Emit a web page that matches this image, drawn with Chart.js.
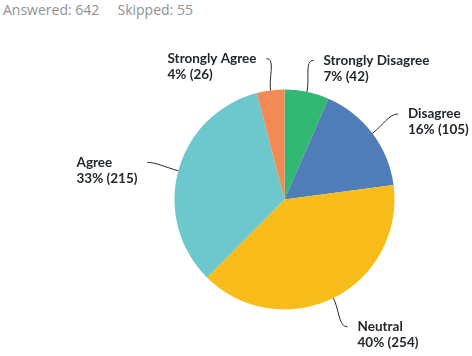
<!DOCTYPE html>
<html>
<head>
<meta charset="utf-8">
<script src="https://cdn.jsdelivr.net/npm/chart.js@4"></script>
<style>
  html, body { margin: 0; padding: 0; background: #fff; }
  #wrap { position: relative; width: 472px; height: 356px; }
  #hdr { position: absolute; left: 3px; top: 0px; font-family: "Open Sans", sans-serif; font-size: 14px; color: #8d9296; white-space: pre; }
  canvas { position: absolute; left: 0; top: 0; }
</style>
</head>
<body>
<div id="wrap">
  <div id="hdr"></div>
  <canvas id="c" width="472" height="356"></canvas>
</div>
<script>
const categories = ["Strongly Disagree", "Disagree", "Neutral", "Agree", "Strongly Agree"];
const counts = [42, 105, 254, 215, 26];
const colors = ["#32b872", "#4f7db7", "#f8bd1a", "#6cc8cc", "#f38a55"];
const answered = 642;
const skipped = 55;

document.getElementById('hdr').textContent = "Answered: " + answered + "     Skipped: " + skipped;

const total = counts.reduce((a, b) => a + b, 0);

const labelPlugin = {
  id: 'leaderLabels',
  afterDatasetsDraw(chart) {
    const ctx = chart.ctx;
    const meta = chart.getDatasetMeta(0);
    ctx.save();
    ctx.font = "bold 13.5px Lato, sans-serif";
    ctx.fillStyle = "#23282d";
    ctx.strokeStyle = "#23282d";
    ctx.lineWidth = 1;
    ctx.textBaseline = "middle";
    meta.data.forEach((arc, i) => {
      const p = arc.getProps(['x', 'y', 'startAngle', 'endAngle', 'outerRadius'], true);
      const mid = (p.startAngle + p.endAngle) / 2;
      const c = Math.cos(mid), s = Math.sin(mid);
      const r = p.outerRadius;
      const x0 = p.x + c * r, y0 = p.y + s * r;
      const x2 = p.x + c * (r + 32), y2 = p.y + s * (r + 32);
      const dir = c >= 0 ? 1 : -1;
      ctx.beginPath();
      ctx.moveTo(x0, y0);
      ctx.bezierCurveTo(x0 + c * 14, y0 + s * 14, x2 - dir * 9, y2, x2, y2);
      ctx.stroke();
      const pct = Math.round(counts[i] / total * 100);
      const lines = [categories[i], pct + "% (" + counts[i] + ")"];
      const w = Math.max(...lines.map(t => ctx.measureText(t).width));
      const tx = dir > 0 ? x2 + 10 : x2 - 10 - w;
      ctx.textAlign = "left";
      lines.forEach((t, k) => ctx.fillText(t, tx, y2 + k * 16));
    });
    ctx.restore();
  }
};

new Chart(document.getElementById('c'), {
  type: 'pie',
  data: {
    labels: categories,
    datasets: [{
      data: counts,
      backgroundColor: colors,
      borderWidth: 0,
      hoverOffset: 0
    }]
  },
  options: {
    responsive: false,
    animation: false,
    layout: { padding: { left: 174.5, right: 77.5, top: 89.5, bottom: 46.5 } },
    plugins: {
      legend: { display: false },
      tooltip: { enabled: false },
      title: { display: false }
    }
  },
  plugins: [labelPlugin]
});
</script>
</body>
</html>
